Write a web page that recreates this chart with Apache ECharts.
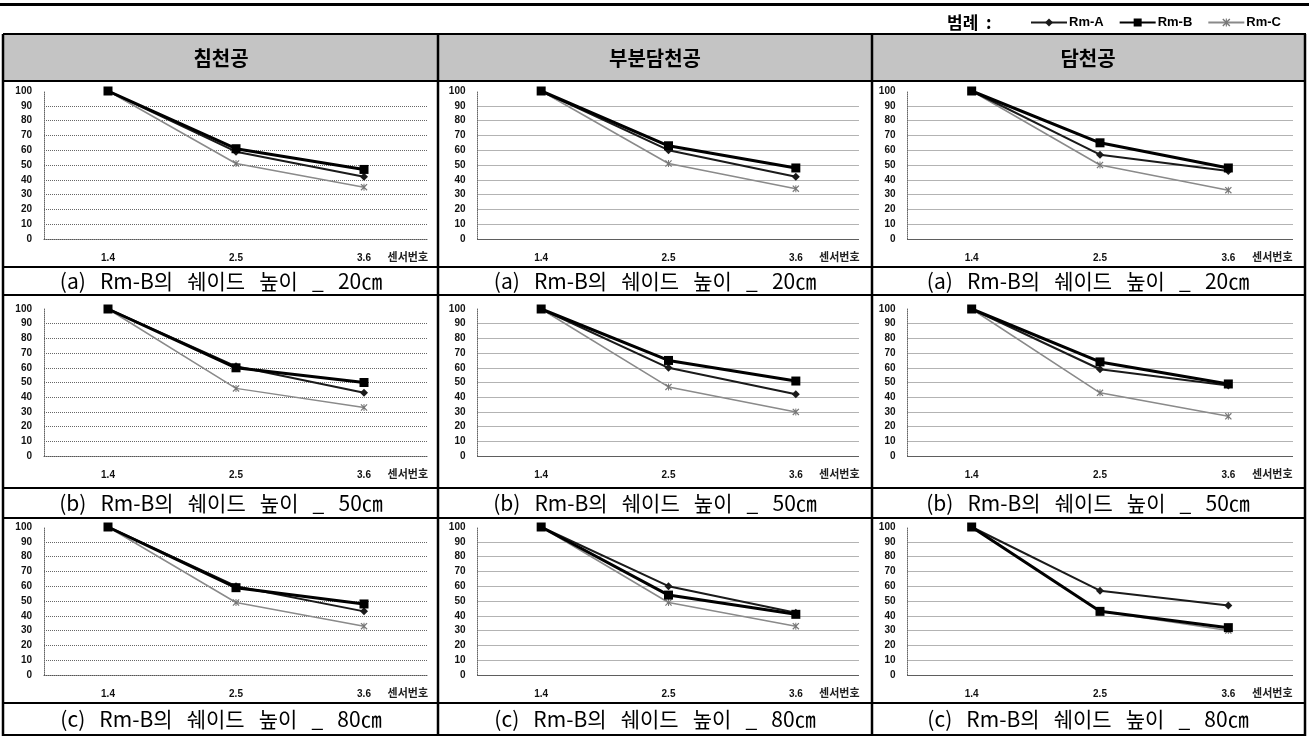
<!DOCTYPE html>
<html>
<head>
<meta charset="utf-8">
<script src="https://cdn.jsdelivr.net/npm/echarts@6/dist/echarts.min.js"></script>
<style>
html,body{margin:0;padding:0;background:#fff;}
#chart{width:1309px;height:738px;}
</style>
</head>
<body>
<div id="chart"></div>
<script>
// ---------- data ----------
const categories = ['1.4', '2.5', '3.6'];
const seriesNames = ['Rm-A', 'Rm-B', 'Rm-C'];
const columnHeaders = ['침천공', '부분담천공', '담천공'];
const rowCaptions = [
  '(a)   Rm-B의   쉐이드   높이   _   20㎝',
  '(b)   Rm-B의   쉐이드   높이   _   50㎝',
  '(c)   Rm-B의   쉐이드   높이   _   80㎝'
];
const xAxisTitle = '센서번호';
const legendLabel = '범례  :';

// values per row (shade height), one array per column (침천공, 부분담천공, 담천공)
const rmA_20 = [[100, 59, 42], [100, 60, 42], [100, 57, 46]];
const rmB_20 = [[100, 61, 47], [100, 63, 48], [100, 65, 48]];
const rmC_20 = [[100, 51, 35], [100, 51, 34], [100, 50, 33]];

const rmA_50 = [[100, 61, 43], [100, 60, 42], [100, 59, 48]];
const rmB_50 = [[100, 60, 50], [100, 65, 51], [100, 64, 49]];
const rmC_50 = [[100, 46, 33], [100, 47, 30], [100, 43, 27]];

const rmA_80 = [[100, 60, 43], [100, 60, 42], [100, 57, 47]];
const rmB_80 = [[100, 59, 48], [100, 54, 41], [100, 43, 32]];
const rmC_80 = [[100, 49, 33], [100, 49, 33], [100, 43, 30]];

const rowsA = [rmA_20, rmA_50, rmA_80];
const rowsB = [rmB_20, rmB_50, rmB_80];
const rowsC = [rmC_20, rmC_50, rmC_80];

// ---------- layout ----------
const colPlot = [{ left: 44, width: 384 }, { left: 477.5, width: 382 }, { left: 907.5, width: 385 }];
const rowPlot = [{ top: 91, height: 148 }, { top: 309, height: 147 }, { top: 527, height: 148 }];
const colCenters = [221, 655, 1088];
const captionY = [281, 503, 719];
const hLines = [34, 81, 267, 295, 488, 518, 703, 735];
const vLines = [3, 438, 872, 1305];

const KR = '"Noto Sans CJK KR", "Noto Sans", sans-serif';
const NUM = '"Liberation Sans", Arial, sans-serif';
const starPath = 'path://M0,1.2 L1.2,0 L5,3.8 L8.8,0 L10,1.2 L6.2,5 L10,8.8 L8.8,10 L5,6.2 L1.2,10 L0,8.8 L3.8,5 Z M4.3,0 L5.7,0 L5.7,10 L4.3,10 Z';

const grids = [], xAxes = [], yAxes = [], series = [];
let idx = 0;
for (let r = 0; r < 3; r++) {
  for (let c = 0; c < 3; c++) {
    grids.push({ left: colPlot[c].left, width: colPlot[c].width, top: rowPlot[r].top, height: rowPlot[r].height });
    xAxes.push({
      gridIndex: idx, type: 'category', data: categories, boundaryGap: true,
      axisLine: { show: true, lineStyle: { color: '#555', type: 'dotted', width: 1 } },
      axisTick: { show: false },
      axisLabel: { margin: 14, fontSize: 10, fontWeight: 'bold', color: '#111', fontFamily: NUM },
      splitLine: { show: false },
      name: xAxisTitle, nameLocation: 'end', nameGap: 0,
      nameTextStyle: { fontSize: 11, fontWeight: 'bold', color: '#222', fontFamily: KR, align: 'right', verticalAlign: 'top', padding: [12, 0, 0, 0] }
    });
    yAxes.push({
      gridIndex: idx, type: 'value', min: 0, max: 100, interval: 10,
      axisLine: { show: true, lineStyle: { color: '#666', type: 'dotted', width: 1 } },
      axisTick: { show: false },
      axisLabel: { margin: 12, fontSize: 10, fontWeight: 'bold', color: '#111', fontFamily: NUM },
      splitLine: { show: true, showMaxLine: false, lineStyle: { color: '#666', type: 'dotted', width: 1 } }
    });
    series.push({
      name: seriesNames[2], type: 'line', xAxisIndex: idx, yAxisIndex: idx, data: rowsC[r][c],
      symbol: starPath, symbolSize: 7, z: 2,
      lineStyle: { color: '#8a8a8a', width: 1.5 }, itemStyle: { color: '#777' }
    });
    series.push({
      name: seriesNames[0], type: 'line', xAxisIndex: idx, yAxisIndex: idx, data: rowsA[r][c],
      symbol: 'diamond', symbolSize: 8, z: 3,
      lineStyle: { color: '#1a1a1a', width: 2 }, itemStyle: { color: '#1a1a1a' }
    });
    series.push({
      name: seriesNames[1], type: 'line', xAxisIndex: idx, yAxisIndex: idx, data: rowsB[r][c],
      symbol: 'rect', symbolSize: 9, z: 4,
      lineStyle: { color: '#000', width: 3 }, itemStyle: { color: '#000' }
    });
    idx++;
  }
}

// ---------- table decoration ----------
const graphic = [];
graphic.push({ type: 'rect', shape: { x: 0, y: 3, width: 1309, height: 3 }, style: { fill: '#000' }, silent: true });
graphic.push({ type: 'rect', shape: { x: 4, y: 35, width: 1301, height: 45 }, style: { fill: '#c4c4c4' }, silent: true });
hLines.forEach(y => graphic.push({ type: 'line', shape: { x1: 3, y1: y, x2: 1306, y2: y }, style: { stroke: '#000', lineWidth: 2 }, silent: true }));
vLines.forEach(x => graphic.push({ type: 'line', shape: { x1: x, y1: 34, x2: x, y2: 736 }, style: { stroke: '#000', lineWidth: 2.5 }, silent: true }));
columnHeaders.forEach((t, i) => graphic.push({ type: 'text', x: colCenters[i], y: 58, style: { text: t, font: 'bold 20px ' + KR, fill: '#000', align: 'center', verticalAlign: 'middle' }, silent: true }));
for (let r = 0; r < 3; r++) {
  for (let c = 0; c < 3; c++) {
    graphic.push({ type: 'text', x: colCenters[c], y: captionY[r], style: { text: rowCaptions[r], font: '21px ' + KR, fill: '#000', align: 'center', verticalAlign: 'middle' }, silent: true });
  }
}
graphic.push({ type: 'text', x: 947, y: 23, style: { text: legendLabel, font: 'bold 17px ' + KR, fill: '#000', align: 'left', verticalAlign: 'middle' }, silent: true });

const chart = echarts.init(document.getElementById('chart'), null, { renderer: 'canvas' });
chart.setOption({
  animation: false,
  backgroundColor: '#fff',
  legend: {
    data: seriesNames, left: 1030, top: 16, orient: 'horizontal',
    itemWidth: 36, itemHeight: 10, itemGap: 15, padding: 0,
    textStyle: { fontSize: 13, fontWeight: 'bold', color: '#000', fontFamily: NUM, padding: [0, 0, 0, -3] }
  },
  grid: grids,
  xAxis: xAxes,
  yAxis: yAxes,
  series: series,
  graphic: graphic
});
</script>
</body>
</html>
